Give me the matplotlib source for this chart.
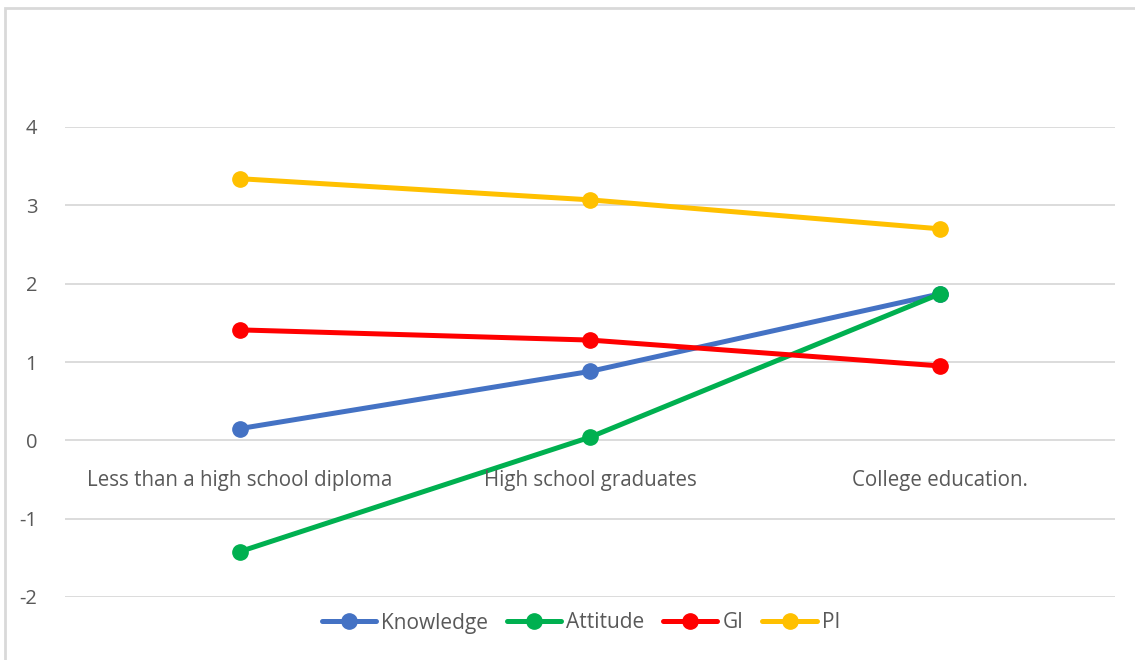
import matplotlib.pyplot as plt
from matplotlib.patches import Rectangle

# categorias y series
categorias = ['Less than a high school diploma', 'High school graduates', 'College education.']
knowledge = [0.15, 0.88, 1.87]
attitude = [-1.42, 0.04, 1.87]
gi = [1.41, 1.28, 0.95]
pi = [3.34, 3.07, 2.70]
series = ['Knowledge', 'Attitude', 'GI', 'PI']
colores = ['#4472C4', '#00B050', '#FF0000', '#FFC000']
yticks = [-2, -1, 0, 1, 2, 3, 4]

plt.rcParams['font.family'] = ['Open Sans', 'DejaVu Sans']

fig = plt.figure(figsize=(11.35, 6.6), dpi=100)
# borde del grafico
fig.patches.append(Rectangle((5 / 1135, -0.01), 1.02, (660 - 8) / 660 + 0.01, transform=fig.transFigure,
                             fill=False, edgecolor='#D9D9D9', linewidth=2))

ax = fig.add_axes([65 / 1135, (660 - 597) / 660, (1115 - 65) / 1135, (597 - 127) / 660])
x = range(len(categorias))
for nombre, valores, c in zip(series, [knowledge, attitude, gi, pi], colores):
    ax.plot(x, valores, color=c, linewidth=3.6, marker='o', markersize=11, label=nombre,
            solid_capstyle='round', zorder=3)

ax.set_xlim(-0.5, len(categorias) - 0.5)
ax.set_ylim(-2, 4)
ax.set_yticks(yticks)
ax.set_yticklabels([str(v) for v in yticks])
ax.grid(axis='y', color='#D9D9D9', linewidth=1.3)
ax.set_xticks([])
for s in ax.spines.values():
    s.set_visible(False)
ax.tick_params(axis='y', length=0, pad=20, labelsize=14.5, labelcolor='#595959')

# etiquetas de categoria bajo el eje
for i, cat in enumerate(categorias):
    ax.text(i, -0.51, cat, ha='center', va='center', fontsize=14.8, color='#595959')

leg = fig.legend(loc='center', bbox_to_anchor=(581 / 1135, (660 - 623) / 660), ncol=4, frameon=False,
                 fontsize=15, handlelength=2.6, columnspacing=0.9, handletextpad=0.25)
for t in leg.get_texts():
    t.set_color('#595959')

fig.savefig('out.png', dpi=100)
